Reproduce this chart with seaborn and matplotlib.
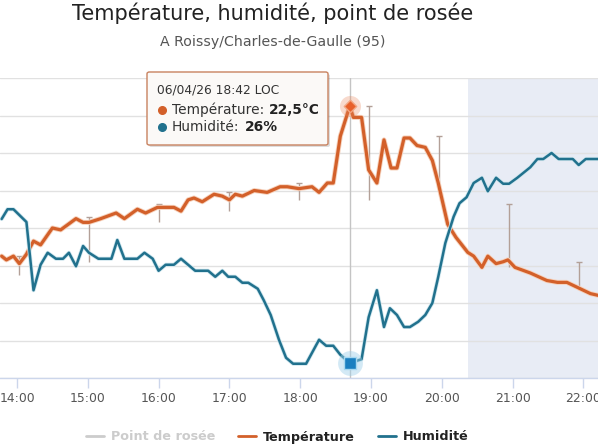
import pandas as pd
import seaborn as sns
import matplotlib.pyplot as plt
import matplotlib.dates as mdates
import matplotlib.patheffects as pe
from matplotlib.lines import Line2D
from matplotlib.patches import FancyBboxPatch

sns.set_style('white')
plt.rcParams['font.family'] = ['DejaVu Sans']

day = '2026-04-06 '

# temperature (°C)
temp_times = ["13:47", "13:51", "13:57", "14:02", "14:08", "14:14", "14:20", "14:30", "14:37", "14:50",
              "14:56", "15:01", "15:11", "15:24", "15:31", "15:42", "15:49", "15:59", "16:13", "16:19",
              "16:25", "16:30", "16:37", "16:47", "16:54", "17:00", "17:05", "17:11", "17:21", "17:32",
              "17:43", "17:49", "17:59", "18:10", "18:16", "18:23", "18:28", "18:34", "18:42", "18:45",
              "18:52", "18:58", "19:05", "19:11", "19:17", "19:22", "19:28", "19:33", "19:39", "19:46",
              "19:52", "19:57", "20:05", "20:12", "20:22", "20:27", "20:34", "20:39", "20:46", "20:52",
              "20:56", "21:02", "21:15", "21:29", "21:38", "21:46", "21:56", "22:06", "22:13"]
temp_values = [14.5, 14.3, 14.5, 14.1, 14.6, 15.3, 15.1, 16.0, 15.9, 16.5,
               16.3, 16.3, 16.5, 16.8, 16.5, 17.0, 16.8, 17.1, 17.1, 16.9,
               17.5, 17.6, 17.4, 17.8, 17.7, 17.5, 17.8, 17.7, 18.0, 17.9,
               18.2, 18.2, 18.1, 18.2, 17.9, 18.4, 18.4, 20.9, 22.5, 21.9,
               21.9, 19.1, 18.4, 20.7, 19.2, 19.2, 20.8, 20.8, 20.4, 20.3,
               19.6, 18.4, 16.2, 15.5, 14.7, 14.5, 13.9, 14.5, 14.1, 14.2,
               14.3, 13.9, 13.6, 13.2, 13.1, 13.1, 12.8, 12.5, 12.4]

# humidity (%)
hum_times = ["13:47", "13:52", "13:57", "14:08", "14:14", "14:20", "14:26", "14:33", "14:39", "14:44",
             "14:50", "14:56", "15:01", "15:09", "15:20", "15:25", "15:31", "15:42", "15:48", "15:55",
             "16:00", "16:06", "16:13", "16:19", "16:31", "16:42", "16:48", "16:54", "16:59", "17:05",
             "17:11", "17:16", "17:24", "17:29", "17:35", "17:42", "17:48", "17:54", "18:05", "18:16",
             "18:22", "18:28", "18:34", "18:42", "18:52", "18:58", "19:05", "19:11", "19:16", "19:22",
             "19:28", "19:33", "19:40", "19:46", "19:52", "19:57", "20:03", "20:10", "20:15", "20:21",
             "20:27", "20:34", "20:39", "20:46", "20:52", "20:57", "21:04", "21:15", "21:21", "21:26",
             "21:33", "21:39", "21:51", "21:56", "22:02", "22:13"]
hum_values = [45.2, 46.5, 46.5, 44.8, 35.7, 39.1, 40.7, 39.9, 39.9, 40.7,
              38.9, 41.6, 40.7, 39.9, 39.9, 42.4, 39.9, 39.9, 40.7, 39.9,
              38.3, 39.1, 39.1, 39.9, 38.3, 38.3, 37.5, 38.3, 37.5, 37.5,
              36.7, 36.7, 35.9, 34.4, 32.4, 29.1, 26.7, 25.9, 25.9, 29.1,
              28.3, 28.3, 27.1, 26.0, 26.5, 32.1, 35.7, 30.8, 33.3, 32.4,
              30.8, 30.8, 31.5, 32.4, 34.0, 37.5, 42.0, 45.5, 47.3, 48.1,
              50.0, 50.7, 48.9, 50.7, 49.9, 49.9, 50.7, 52.1, 53.2, 53.2,
              54.0, 53.2, 53.2, 52.4, 53.2, 53.2]

# hourly min/max temperature
range_times = ["14:02", "15:01", "16:00", "17:00", "17:59", "18:58", "19:58", "20:57", "21:56"]
range_max = [14.5, 16.6, 17.3, 17.9, 18.4, 22.5, 20.9, 17.3, 14.2]
range_min = [13.5, 14.2, 16.3, 16.9, 17.5, 17.5, 17.8, 13.9, 12.7]

hover_time = "18:42"
hover_temp = 22.5
hover_hum = 26
night_start = "20:22"

temp_color = '#d3602a'
hum_color = '#21718d'

df_t = pd.DataFrame({'time': pd.to_datetime([day + t for t in temp_times]), 'temp': temp_values})
df_h = pd.DataFrame({'time': pd.to_datetime([day + t for t in hum_times]), 'hum': hum_values})
rng_t = pd.to_datetime([day + t for t in range_times])
hover = pd.Timestamp(day + hover_time)

W, H = 598, 445
def fx(px):
    return px / W
def fy(py):
    return 1 - py / H

fig = plt.figure(figsize=(W / 100, H / 100), dpi=100)
ax = fig.add_axes([0, fy(378), 1, 300 / H])
ax2 = ax.twinx()

ax.set_xlim(pd.Timestamp(day + '13:45:36'), pd.Timestamp(day + '22:12:22'))
ax.set_ylim(8, 24)
ax2.set_ylim(24, 64)

ax.set_axisbelow(True)
ax.set_yticks(range(8, 25, 2))
ax.grid(axis='y', color='#e1e1e1', lw=1)
ax.grid(axis='x', visible=False)
ax.axvspan(pd.Timestamp(day + night_start), pd.Timestamp(day + '23:00'), color='#e8ecf5', zorder=0, lw=0)
ax.axvline(hover, color='#c4c4c4', lw=1, zorder=1)

ax.vlines(rng_t, range_min, range_max, color='#b3a098', lw=1, zorder=2)
ax.plot(rng_t, range_max, ls='none', marker='_', ms=4, color='#b3a098', zorder=2)

sns.lineplot(data=df_t, x='time', y='temp', ax=ax, color=temp_color, lw=2.3, zorder=3,
             path_effects=[pe.Stroke(linewidth=3.6, foreground='#f6d2bd'), pe.Normal()])
sns.lineplot(data=df_h, x='time', y='hum', ax=ax2, color=hum_color, lw=1.8, zorder=3,
             path_effects=[pe.Stroke(linewidth=2.9, foreground='#cfe6ee'), pe.Normal()])

ax.scatter([hover], [hover_temp], s=230, color='#e8875c', alpha=0.3, lw=0, zorder=4)
ax.scatter([hover], [hover_temp], marker='D', s=40, color='#e8602a', edgecolor='#f2a580', lw=1, zorder=5)
ax2.scatter([hover], [hover_hum], s=320, color='#9fd0ea', alpha=0.45, lw=0, zorder=4)
ax2.scatter([hover], [hover_hum], marker='s', s=80, color='#1a7fc0', edgecolor='#a6d8f0', lw=1, zorder=5)

ax.xaxis.set_major_locator(mdates.HourLocator())
ax.xaxis.set_major_formatter(mdates.DateFormatter('%H:%M'))
ax.tick_params(axis='x', length=7, width=1, color='#ccd6eb', labelsize=8.9, labelcolor='#555555', pad=3,
               bottom=True)
for a in (ax, ax2):
    a.set_xlabel('')
    a.set_ylabel('')
    a.tick_params(axis='y', left=False, right=False, labelleft=False, labelright=False)
    for s in ('top', 'left', 'right'):
        a.spines[s].set_visible(False)
ax2.spines['bottom'].set_visible(False)
ax.spines['bottom'].set_color('#ccd6eb')
ax.spines['bottom'].set_linewidth(1)

fig.text(fx(273), fy(13), 'Température, humidité, point de rosée', ha='center', va='center',
         fontsize=15, color='#222222')
fig.text(fx(273), fy(42), 'A Roissy/Charles-de-Gaulle (95)', ha='center', va='center',
         fontsize=10.2, color='#555555')

# tooltip
fig.patches.append(FancyBboxPatch((fx(149), fy(147)), 181 / W, 73 / H, transform=fig.transFigure,
                                  boxstyle='round,pad=0,rounding_size=0.004', facecolor='#00000022',
                                  edgecolor='none', zorder=9))
fig.patches.append(FancyBboxPatch((fx(147), fy(145)), 181 / W, 73 / H, transform=fig.transFigure,
                                  boxstyle='round,pad=0,rounding_size=0.004', facecolor='#fbf9f7',
                                  edgecolor='#c8825f', lw=1, zorder=10))
fig.text(fx(157), fy(90), '06/04/26 18:42 LOC', va='center', fontsize=8.8, color='#333333', zorder=11)
fig.add_artist(Line2D([fx(162)], [fy(110)], marker='o', ms=5.5, color=temp_color, transform=fig.transFigure, zorder=11))
fig.add_artist(Line2D([fx(162)], [fy(127)], marker='o', ms=5.5, color=hum_color, transform=fig.transFigure, zorder=11))
lab1 = fig.text(fx(172), fy(110), 'Température:', va='center', fontsize=9.9, color='#333333', zorder=11)
lab2 = fig.text(fx(172), fy(127), 'Humidité:', va='center', fontsize=9.9, color='#333333', zorder=11)
fig.canvas.draw()
r = fig.canvas.get_renderer()
for lab, val, py in ((lab1, '22,5°C', 110), (lab2, f'{hover_hum}%', 127)):
    x1 = lab.get_window_extent(r).x1
    fig.text(x1 / W + fx(5), fy(py), val, va='center', fontsize=9.9, fontweight='bold',
             color='#222222', zorder=11)

handles = [Line2D([], [], color='#cccccc', lw=2),
           Line2D([], [], color=temp_color, lw=2),
           Line2D([], [], color=hum_color, lw=2)]
leg = fig.legend(handles, ['Point de rosée', 'Température', 'Humidité'], loc='center',
                 bbox_to_anchor=(fx(277), fy(437)), ncol=3, frameon=False,
                 prop={'weight': 'bold', 'size': 9.2}, handlelength=1.4, handletextpad=0.55,
                 columnspacing=1.8)
leg.get_texts()[0].set_color('#cccccc')
for t in leg.get_texts()[1:]:
    t.set_color('#222222')

fig.savefig('out.png', dpi=100)
